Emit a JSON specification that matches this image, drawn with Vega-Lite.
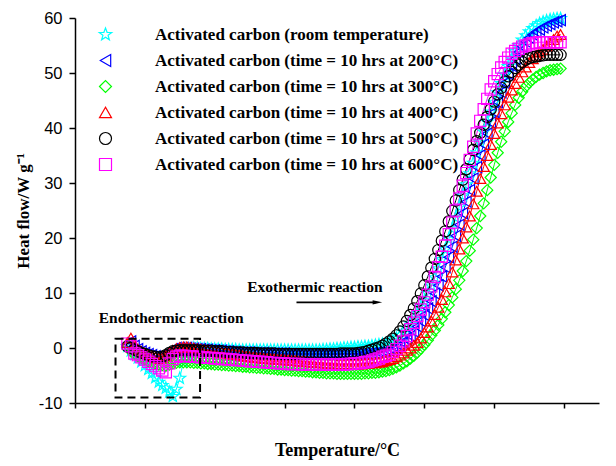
{
 "$schema": "https://vega.github.io/schema/vega-lite/v6.json",
 "width": 524,
 "height": 385,
 "autosize": {"type": "none"},
 "padding": {"left": 75, "top": 18, "right": 17, "bottom": 63},
 "background": "white",
 "config": {"view": {"stroke": null}},
 "datasets": {
  "d": [
{"s":"a","t":25,"h":0.3},{"s":"a","t":30,"h":-0.5},{"s":"a","t":35,"h":-1.2},{"s":"a","t":40,"h":-1.8},{"s":"a","t":45,"h":-2.5},{"s":"a","t":50,"h":-3.2},{"s":"a","t":55,"h":-3.9},{"s":"a","t":60,"h":-4.6},{"s":"a","t":65,"h":-5.4},{"s":"a","t":70,"h":-6.2},{"s":"a","t":75,"h":-6.8},{"s":"a","t":80,"h":-7.3},{"s":"a","t":85,"h":-8.0},{"s":"a","t":90,"h":-8.8},{"s":"a","t":95,"h":-7.5},{"s":"a","t":100,"h":-5.5},{"s":"a","t":105,"h":-2.5},{"s":"a","t":110,"h":-1.0},{"s":"a","t":115,"h":-0.2},{"s":"a","t":120,"h":0.0},
{"s":"a","t":125,"h":0.0},{"s":"a","t":130,"h":-0.1},{"s":"a","t":135,"h":-0.1},{"s":"a","t":140,"h":-0.1},{"s":"a","t":145,"h":-0.2},{"s":"a","t":150,"h":-0.2},{"s":"a","t":155,"h":-0.2},{"s":"a","t":160,"h":-0.2},{"s":"a","t":165,"h":-0.3},{"s":"a","t":170,"h":-0.3},{"s":"a","t":175,"h":-0.3},{"s":"a","t":180,"h":-0.3},{"s":"a","t":185,"h":-0.4},{"s":"a","t":190,"h":-0.4},{"s":"a","t":195,"h":-0.4},{"s":"a","t":200,"h":-0.4},{"s":"a","t":205,"h":-0.4},{"s":"a","t":210,"h":-0.4},{"s":"a","t":215,"h":-0.4},{"s":"a","t":220,"h":-0.4},{"s":"a","t":225,"h":-0.4},{"s":"a","t":230,"h":-0.4},{"s":"a","t":235,"h":-0.4},{"s":"a","t":240,"h":-0.4},{"s":"a","t":245,"h":-0.4},{"s":"a","t":250,"h":-0.4},{"s":"a","t":255,"h":-0.4},{"s":"a","t":260,"h":-0.4},{"s":"a","t":265,"h":-0.4},{"s":"a","t":270,"h":-0.4},{"s":"a","t":275,"h":-0.4},{"s":"a","t":280,"h":-0.4},{"s":"a","t":285,"h":-0.4},{"s":"a","t":290,"h":-0.4},{"s":"a","t":295,"h":-0.4},{"s":"a","t":300,"h":-0.4},
{"s":"a","t":305,"h":-0.3},{"s":"a","t":310,"h":-0.3},{"s":"a","t":315,"h":-0.2},{"s":"a","t":320,"h":-0.2},{"s":"a","t":325,"h":-0.1},{"s":"a","t":330,"h":-0.1},{"s":"a","t":335,"h":0.0},{"s":"a","t":340,"h":0.0},{"s":"a","t":345,"h":0.1},{"s":"a","t":350,"h":0.1},{"s":"a","t":355,"h":0.2},{"s":"a","t":360,"h":0.2},{"s":"a","t":365,"h":0.3},{"s":"a","t":370,"h":0.3},{"s":"a","t":375,"h":0.4},{"s":"a","t":380,"h":0.5},{"s":"a","t":385,"h":0.6},{"s":"a","t":390,"h":0.7},{"s":"a","t":395,"h":0.8},{"s":"a","t":400,"h":1.0},
{"s":"a","t":405,"h":1.4},{"s":"a","t":410,"h":1.8},{"s":"a","t":415,"h":2.3},{"s":"a","t":420,"h":2.9},{"s":"a","t":425,"h":3.6},{"s":"a","t":430,"h":4.4},{"s":"a","t":435,"h":5.3},{"s":"a","t":440,"h":6.3},{"s":"a","t":445,"h":7.4},{"s":"a","t":450,"h":8.6},{"s":"a","t":455,"h":9.9},{"s":"a","t":460,"h":11.3},{"s":"a","t":465,"h":12.8},{"s":"a","t":470,"h":14.4},{"s":"a","t":475,"h":16.1},{"s":"a","t":480,"h":17.9},{"s":"a","t":485,"h":19.8},{"s":"a","t":490,"h":21.7},{"s":"a","t":495,"h":23.7},{"s":"a","t":500,"h":25.7},{"s":"a","t":505,"h":27.7},{"s":"a","t":510,"h":29.7},{"s":"a","t":515,"h":31.7},{"s":"a","t":520,"h":33.6},{"s":"a","t":525,"h":35.5},{"s":"a","t":530,"h":37.4},{"s":"a","t":535,"h":39.3},{"s":"a","t":540,"h":41.1},{"s":"a","t":545,"h":42.9},{"s":"a","t":550,"h":44.7},{"s":"a","t":555,"h":46.4},{"s":"a","t":560,"h":48.1},{"s":"a","t":565,"h":49.7},{"s":"a","t":570,"h":51.2},{"s":"a","t":575,"h":52.6},{"s":"a","t":580,"h":53.9},{"s":"a","t":585,"h":55.0},{"s":"a","t":590,"h":56.0},{"s":"a","t":595,"h":56.8},{"s":"a","t":600,"h":57.5},{"s":"a","t":605,"h":58.1},{"s":"a","t":610,"h":58.6},{"s":"a","t":615,"h":59.0},{"s":"a","t":620,"h":59.3},{"s":"a","t":625,"h":59.5},{"s":"a","t":630,"h":59.7},{"s":"a","t":635,"h":59.8},{"s":"a","t":640,"h":59.9},{"s":"a","t":645,"h":59.9},

{"s":"b","t":25,"h":0.8},{"s":"b","t":30,"h":1.2},{"s":"b","t":35,"h":0.4},{"s":"b","t":40,"h":-0.2},{"s":"b","t":45,"h":-0.6},{"s":"b","t":50,"h":-0.9},{"s":"b","t":55,"h":-1.1},{"s":"b","t":60,"h":-1.3},{"s":"b","t":65,"h":-1.5},{"s":"b","t":70,"h":-1.6},{"s":"b","t":75,"h":-1.5},{"s":"b","t":80,"h":-1.1},{"s":"b","t":85,"h":-0.6},{"s":"b","t":90,"h":-0.2},{"s":"b","t":95,"h":0.0},{"s":"b","t":100,"h":0.0},{"s":"b","t":105,"h":0.0},{"s":"b","t":110,"h":0.0},{"s":"b","t":115,"h":-0.1},{"s":"b","t":120,"h":-0.1},
{"s":"b","t":125,"h":-0.2},{"s":"b","t":130,"h":-0.2},{"s":"b","t":135,"h":-0.3},{"s":"b","t":140,"h":-0.3},{"s":"b","t":145,"h":-0.4},{"s":"b","t":150,"h":-0.4},{"s":"b","t":155,"h":-0.5},{"s":"b","t":160,"h":-0.5},{"s":"b","t":165,"h":-0.6},{"s":"b","t":170,"h":-0.6},{"s":"b","t":175,"h":-0.7},{"s":"b","t":180,"h":-0.7},{"s":"b","t":185,"h":-0.8},{"s":"b","t":190,"h":-0.8},{"s":"b","t":195,"h":-0.8},{"s":"b","t":200,"h":-0.8},{"s":"b","t":205,"h":-0.9},{"s":"b","t":210,"h":-0.9},{"s":"b","t":215,"h":-0.9},{"s":"b","t":220,"h":-0.9},{"s":"b","t":225,"h":-1.0},{"s":"b","t":230,"h":-1.0},{"s":"b","t":235,"h":-1.0},{"s":"b","t":240,"h":-1.0},{"s":"b","t":245,"h":-1.0},{"s":"b","t":250,"h":-1.0},
{"s":"b","t":255,"h":-1.1},{"s":"b","t":260,"h":-1.1},{"s":"b","t":265,"h":-1.1},{"s":"b","t":270,"h":-1.1},{"s":"b","t":275,"h":-1.1},{"s":"b","t":280,"h":-1.1},{"s":"b","t":285,"h":-1.1},{"s":"b","t":290,"h":-1.1},{"s":"b","t":295,"h":-1.1},{"s":"b","t":300,"h":-1.1},{"s":"b","t":305,"h":-1.1},{"s":"b","t":310,"h":-1.1},{"s":"b","t":315,"h":-1.1},{"s":"b","t":320,"h":-1.1},{"s":"b","t":325,"h":-1.1},{"s":"b","t":330,"h":-1.1},{"s":"b","t":335,"h":-1.1},{"s":"b","t":340,"h":-1.1},{"s":"b","t":345,"h":-1.1},{"s":"b","t":350,"h":-1.1},{"s":"b","t":355,"h":-1.1},{"s":"b","t":360,"h":-1.1},
{"s":"b","t":365,"h":-1.0},{"s":"b","t":370,"h":-1.0},{"s":"b","t":375,"h":-0.9},{"s":"b","t":380,"h":-0.9},{"s":"b","t":385,"h":-0.8},{"s":"b","t":390,"h":-0.8},{"s":"b","t":395,"h":-0.7},{"s":"b","t":400,"h":-0.5},{"s":"b","t":405,"h":-0.3},{"s":"b","t":410,"h":0.0},{"s":"b","t":415,"h":0.4},{"s":"b","t":420,"h":0.9},{"s":"b","t":425,"h":1.5},{"s":"b","t":430,"h":2.2},{"s":"b","t":435,"h":3.0},{"s":"b","t":440,"h":3.9},{"s":"b","t":445,"h":4.9},{"s":"b","t":450,"h":6.0},{"s":"b","t":455,"h":7.2},{"s":"b","t":460,"h":8.5},{"s":"b","t":465,"h":9.9},{"s":"b","t":470,"h":11.4},{"s":"b","t":475,"h":13.0},{"s":"b","t":480,"h":14.7},{"s":"b","t":485,"h":16.5},{"s":"b","t":490,"h":18.4},{"s":"b","t":495,"h":20.4},{"s":"b","t":500,"h":22.4},{"s":"b","t":505,"h":24.5},{"s":"b","t":510,"h":26.6},{"s":"b","t":515,"h":28.7},{"s":"b","t":520,"h":30.8},{"s":"b","t":525,"h":32.9},{"s":"b","t":530,"h":35.0},{"s":"b","t":535,"h":37.0},{"s":"b","t":540,"h":39.0},{"s":"b","t":545,"h":41.0},{"s":"b","t":550,"h":42.9},{"s":"b","t":555,"h":44.7},{"s":"b","t":560,"h":46.5},{"s":"b","t":565,"h":48.2},{"s":"b","t":570,"h":49.8},{"s":"b","t":575,"h":51.3},{"s":"b","t":580,"h":52.6},{"s":"b","t":585,"h":53.8},{"s":"b","t":590,"h":54.8},{"s":"b","t":595,"h":55.7},{"s":"b","t":600,"h":56.4},{"s":"b","t":605,"h":57.0},{"s":"b","t":610,"h":57.5},{"s":"b","t":615,"h":57.9},{"s":"b","t":620,"h":58.3},{"s":"b","t":625,"h":58.6},{"s":"b","t":630,"h":58.9},{"s":"b","t":635,"h":59.2},{"s":"b","t":640,"h":59.4},{"s":"b","t":645,"h":59.6},

{"s":"c","t":25,"h":0.5},{"s":"c","t":30,"h":-0.6},{"s":"c","t":35,"h":-1.1},{"s":"c","t":40,"h":-1.5},{"s":"c","t":45,"h":-1.8},{"s":"c","t":50,"h":-2.1},{"s":"c","t":55,"h":-2.4},{"s":"c","t":60,"h":-2.6},{"s":"c","t":65,"h":-2.8},{"s":"c","t":70,"h":-3.0},{"s":"c","t":75,"h":-3.1},{"s":"c","t":80,"h":-3.2},{"s":"c","t":85,"h":-3.0},{"s":"c","t":90,"h":-2.8},{"s":"c","t":95,"h":-2.7},{"s":"c","t":100,"h":-2.6},{"s":"c","t":105,"h":-2.6},{"s":"c","t":110,"h":-2.6},{"s":"c","t":115,"h":-2.6},{"s":"c","t":120,"h":-2.7},
{"s":"c","t":125,"h":-2.7},{"s":"c","t":130,"h":-2.8},{"s":"c","t":135,"h":-2.8},{"s":"c","t":140,"h":-2.9},{"s":"c","t":145,"h":-2.9},{"s":"c","t":150,"h":-3.0},{"s":"c","t":155,"h":-3.0},{"s":"c","t":160,"h":-3.1},{"s":"c","t":165,"h":-3.1},{"s":"c","t":170,"h":-3.2},{"s":"c","t":175,"h":-3.2},{"s":"c","t":180,"h":-3.3},{"s":"c","t":185,"h":-3.3},{"s":"c","t":190,"h":-3.4},{"s":"c","t":195,"h":-3.4},{"s":"c","t":200,"h":-3.5},{"s":"c","t":205,"h":-3.5},{"s":"c","t":210,"h":-3.6},{"s":"c","t":215,"h":-3.6},{"s":"c","t":220,"h":-3.7},{"s":"c","t":225,"h":-3.7},{"s":"c","t":230,"h":-3.8},{"s":"c","t":235,"h":-3.8},{"s":"c","t":240,"h":-3.9},{"s":"c","t":245,"h":-3.9},{"s":"c","t":250,"h":-4.0},{"s":"c","t":255,"h":-4.0},{"s":"c","t":260,"h":-4.1},{"s":"c","t":265,"h":-4.1},{"s":"c","t":270,"h":-4.2},{"s":"c","t":275,"h":-4.2},{"s":"c","t":280,"h":-4.3},{"s":"c","t":285,"h":-4.3},{"s":"c","t":290,"h":-4.4},{"s":"c","t":295,"h":-4.4},{"s":"c","t":300,"h":-4.5},
{"s":"c","t":305,"h":-4.5},{"s":"c","t":310,"h":-4.6},{"s":"c","t":315,"h":-4.6},{"s":"c","t":320,"h":-4.6},{"s":"c","t":325,"h":-4.7},{"s":"c","t":330,"h":-4.7},{"s":"c","t":335,"h":-4.7},{"s":"c","t":340,"h":-4.7},{"s":"c","t":345,"h":-4.7},{"s":"c","t":350,"h":-4.7},{"s":"c","t":355,"h":-4.7},{"s":"c","t":360,"h":-4.7},{"s":"c","t":365,"h":-4.6},{"s":"c","t":370,"h":-4.6},{"s":"c","t":375,"h":-4.5},{"s":"c","t":380,"h":-4.5},{"s":"c","t":385,"h":-4.4},{"s":"c","t":390,"h":-4.3},{"s":"c","t":395,"h":-4.2},{"s":"c","t":400,"h":-4.0},
{"s":"c","t":405,"h":-3.8},{"s":"c","t":410,"h":-3.5},{"s":"c","t":415,"h":-3.2},{"s":"c","t":420,"h":-2.8},{"s":"c","t":425,"h":-2.4},{"s":"c","t":430,"h":-1.9},{"s":"c","t":435,"h":-1.4},{"s":"c","t":440,"h":-0.8},{"s":"c","t":445,"h":-0.1},{"s":"c","t":450,"h":0.6},{"s":"c","t":455,"h":1.4},{"s":"c","t":460,"h":2.3},{"s":"c","t":465,"h":3.2},{"s":"c","t":470,"h":4.2},{"s":"c","t":475,"h":5.3},{"s":"c","t":480,"h":6.5},{"s":"c","t":485,"h":7.8},{"s":"c","t":490,"h":9.2},{"s":"c","t":495,"h":10.7},{"s":"c","t":500,"h":12.3},{"s":"c","t":505,"h":14.0},{"s":"c","t":510,"h":15.8},{"s":"c","t":515,"h":17.7},{"s":"c","t":520,"h":19.7},{"s":"c","t":525,"h":21.8},{"s":"c","t":530,"h":24.0},{"s":"c","t":535,"h":26.3},{"s":"c","t":540,"h":28.7},{"s":"c","t":545,"h":31.0},{"s":"c","t":550,"h":33.3},{"s":"c","t":555,"h":35.5},{"s":"c","t":560,"h":37.5},{"s":"c","t":565,"h":39.4},{"s":"c","t":570,"h":41.1},{"s":"c","t":575,"h":42.7},{"s":"c","t":580,"h":44.2},{"s":"c","t":585,"h":45.5},{"s":"c","t":590,"h":46.6},{"s":"c","t":595,"h":47.5},{"s":"c","t":600,"h":48.2},{"s":"c","t":605,"h":48.8},{"s":"c","t":610,"h":49.3},{"s":"c","t":615,"h":49.7},{"s":"c","t":620,"h":50.0},{"s":"c","t":625,"h":50.3},{"s":"c","t":630,"h":50.5},{"s":"c","t":635,"h":50.6},{"s":"c","t":640,"h":50.7},{"s":"c","t":645,"h":50.8},

{"s":"d","t":25,"h":1.0},{"s":"d","t":30,"h":1.8},{"s":"d","t":35,"h":0.6},{"s":"d","t":40,"h":-0.2},{"s":"d","t":45,"h":-0.6},{"s":"d","t":50,"h":-0.9},{"s":"d","t":55,"h":-1.2},{"s":"d","t":60,"h":-1.5},{"s":"d","t":65,"h":-1.7},{"s":"d","t":70,"h":-1.9},{"s":"d","t":75,"h":-1.8},{"s":"d","t":80,"h":-1.4},{"s":"d","t":85,"h":-0.8},{"s":"d","t":90,"h":-0.4},{"s":"d","t":95,"h":-0.1},{"s":"d","t":100,"h":0.1},{"s":"d","t":105,"h":0.2},{"s":"d","t":110,"h":0.2},{"s":"d","t":115,"h":0.1},{"s":"d","t":120,"h":0.0},
{"s":"d","t":125,"h":-0.1},{"s":"d","t":130,"h":-0.2},{"s":"d","t":135,"h":-0.3},{"s":"d","t":140,"h":-0.4},{"s":"d","t":145,"h":-0.5},{"s":"d","t":150,"h":-0.6},{"s":"d","t":155,"h":-0.7},{"s":"d","t":160,"h":-0.8},{"s":"d","t":165,"h":-0.9},{"s":"d","t":170,"h":-1.0},{"s":"d","t":175,"h":-1.1},{"s":"d","t":180,"h":-1.2},{"s":"d","t":185,"h":-1.3},{"s":"d","t":190,"h":-1.4},{"s":"d","t":195,"h":-1.5},{"s":"d","t":200,"h":-1.6},{"s":"d","t":205,"h":-1.7},{"s":"d","t":210,"h":-1.8},{"s":"d","t":215,"h":-1.8},{"s":"d","t":220,"h":-1.9},{"s":"d","t":225,"h":-1.9},{"s":"d","t":230,"h":-2.0},{"s":"d","t":235,"h":-2.0},{"s":"d","t":240,"h":-2.1},{"s":"d","t":245,"h":-2.1},{"s":"d","t":250,"h":-2.2},{"s":"d","t":255,"h":-2.2},{"s":"d","t":260,"h":-2.3},{"s":"d","t":265,"h":-2.3},{"s":"d","t":270,"h":-2.4},{"s":"d","t":275,"h":-2.4},{"s":"d","t":280,"h":-2.5},{"s":"d","t":285,"h":-2.5},{"s":"d","t":290,"h":-2.6},{"s":"d","t":295,"h":-2.6},{"s":"d","t":300,"h":-2.7},
{"s":"d","t":305,"h":-2.7},{"s":"d","t":310,"h":-2.8},{"s":"d","t":315,"h":-2.8},{"s":"d","t":320,"h":-2.8},{"s":"d","t":325,"h":-2.9},{"s":"d","t":330,"h":-2.9},{"s":"d","t":335,"h":-2.9},{"s":"d","t":340,"h":-2.9},{"s":"d","t":345,"h":-2.9},{"s":"d","t":350,"h":-2.9},{"s":"d","t":355,"h":-2.9},{"s":"d","t":360,"h":-2.9},{"s":"d","t":365,"h":-2.8},{"s":"d","t":370,"h":-2.8},{"s":"d","t":375,"h":-2.7},{"s":"d","t":380,"h":-2.7},{"s":"d","t":385,"h":-2.6},{"s":"d","t":390,"h":-2.5},{"s":"d","t":395,"h":-2.3},{"s":"d","t":400,"h":-2.1},
{"s":"d","t":405,"h":-1.9},{"s":"d","t":410,"h":-1.6},{"s":"d","t":415,"h":-1.3},{"s":"d","t":420,"h":-0.9},{"s":"d","t":425,"h":-0.4},{"s":"d","t":430,"h":0.0},{"s":"d","t":435,"h":0.5},{"s":"d","t":440,"h":1.0},{"s":"d","t":445,"h":1.8},{"s":"d","t":450,"h":2.8},{"s":"d","t":455,"h":3.8},{"s":"d","t":460,"h":4.9},{"s":"d","t":465,"h":6.1},{"s":"d","t":470,"h":7.4},{"s":"d","t":475,"h":8.8},{"s":"d","t":480,"h":10.2},{"s":"d","t":485,"h":11.7},{"s":"d","t":490,"h":13.8},{"s":"d","t":495,"h":16.0},{"s":"d","t":500,"h":18.0},{"s":"d","t":505,"h":20.0},{"s":"d","t":510,"h":22.0},{"s":"d","t":515,"h":24.0},{"s":"d","t":520,"h":26.2},{"s":"d","t":525,"h":28.5},{"s":"d","t":530,"h":30.8},{"s":"d","t":535,"h":33.0},{"s":"d","t":540,"h":35.0},{"s":"d","t":545,"h":37.0},{"s":"d","t":550,"h":39.0},{"s":"d","t":555,"h":40.9},{"s":"d","t":560,"h":42.6},{"s":"d","t":565,"h":44.2},{"s":"d","t":570,"h":45.6},{"s":"d","t":575,"h":46.9},{"s":"d","t":580,"h":48.1},{"s":"d","t":585,"h":49.2},{"s":"d","t":590,"h":50.2},{"s":"d","t":595,"h":51.1},{"s":"d","t":600,"h":51.9},{"s":"d","t":605,"h":52.6},{"s":"d","t":610,"h":53.2},{"s":"d","t":615,"h":53.8},{"s":"d","t":620,"h":54.3},{"s":"d","t":625,"h":54.9},{"s":"d","t":630,"h":55.5},{"s":"d","t":635,"h":56.1},{"s":"d","t":640,"h":56.7},{"s":"d","t":645,"h":57.0},

{"s":"e","t":25,"h":0.3},{"s":"e","t":30,"h":0.0},{"s":"e","t":35,"h":-0.3},{"s":"e","t":40,"h":-0.6},{"s":"e","t":45,"h":-0.9},{"s":"e","t":50,"h":-1.1},{"s":"e","t":55,"h":-1.3},{"s":"e","t":60,"h":-1.5},{"s":"e","t":65,"h":-1.6},{"s":"e","t":70,"h":-1.7},{"s":"e","t":75,"h":-1.6},{"s":"e","t":80,"h":-1.3},{"s":"e","t":85,"h":-0.9},{"s":"e","t":90,"h":-0.6},{"s":"e","t":95,"h":-0.5},{"s":"e","t":100,"h":-0.4},{"s":"e","t":105,"h":-0.4},{"s":"e","t":110,"h":-0.4},{"s":"e","t":115,"h":-0.4},{"s":"e","t":120,"h":-0.4},
{"s":"e","t":125,"h":-0.4},{"s":"e","t":130,"h":-0.5},{"s":"e","t":135,"h":-0.5},{"s":"e","t":140,"h":-0.5},{"s":"e","t":145,"h":-0.5},{"s":"e","t":150,"h":-0.6},{"s":"e","t":155,"h":-0.6},{"s":"e","t":160,"h":-0.6},{"s":"e","t":165,"h":-0.7},{"s":"e","t":170,"h":-0.7},{"s":"e","t":175,"h":-0.7},{"s":"e","t":180,"h":-0.8},{"s":"e","t":185,"h":-0.8},{"s":"e","t":190,"h":-0.8},{"s":"e","t":195,"h":-0.9},{"s":"e","t":200,"h":-0.9},{"s":"e","t":205,"h":-0.9},{"s":"e","t":210,"h":-0.9},{"s":"e","t":215,"h":-1.0},{"s":"e","t":220,"h":-1.0},{"s":"e","t":225,"h":-1.0},{"s":"e","t":230,"h":-1.0},{"s":"e","t":235,"h":-1.0},{"s":"e","t":240,"h":-1.1},{"s":"e","t":245,"h":-1.1},{"s":"e","t":250,"h":-1.1},{"s":"e","t":255,"h":-1.1},{"s":"e","t":260,"h":-1.1},{"s":"e","t":265,"h":-1.1},{"s":"e","t":270,"h":-1.1},{"s":"e","t":275,"h":-1.1},{"s":"e","t":280,"h":-1.1},{"s":"e","t":285,"h":-1.1},{"s":"e","t":290,"h":-1.1},{"s":"e","t":295,"h":-1.1},{"s":"e","t":300,"h":-1.1},
{"s":"e","t":305,"h":-1.1},{"s":"e","t":310,"h":-1.1},{"s":"e","t":315,"h":-1.1},{"s":"e","t":320,"h":-1.1},{"s":"e","t":325,"h":-1.1},{"s":"e","t":330,"h":-1.0},{"s":"e","t":335,"h":-1.0},{"s":"e","t":340,"h":-1.0},{"s":"e","t":345,"h":-1.0},{"s":"e","t":350,"h":-1.0},{"s":"e","t":355,"h":-0.9},{"s":"e","t":360,"h":-0.8},{"s":"e","t":365,"h":-0.7},{"s":"e","t":370,"h":-0.5},{"s":"e","t":375,"h":-0.3},{"s":"e","t":380,"h":-0.1},{"s":"e","t":385,"h":0.1},{"s":"e","t":390,"h":0.4},{"s":"e","t":395,"h":0.8},{"s":"e","t":400,"h":1.2},
{"s":"e","t":405,"h":1.7},{"s":"e","t":410,"h":2.3},{"s":"e","t":415,"h":3.0},{"s":"e","t":420,"h":3.9},{"s":"e","t":425,"h":4.9},{"s":"e","t":430,"h":6.0},{"s":"e","t":435,"h":7.2},{"s":"e","t":440,"h":8.5},{"s":"e","t":445,"h":9.9},{"s":"e","t":450,"h":11.4},{"s":"e","t":455,"h":13.0},{"s":"e","t":460,"h":14.6},{"s":"e","t":465,"h":16.2},{"s":"e","t":470,"h":17.8},{"s":"e","t":475,"h":19.5},{"s":"e","t":480,"h":21.2},{"s":"e","t":485,"h":23.0},{"s":"e","t":490,"h":24.9},{"s":"e","t":495,"h":26.8},{"s":"e","t":500,"h":28.7},{"s":"e","t":505,"h":30.6},{"s":"e","t":510,"h":32.5},{"s":"e","t":515,"h":34.3},{"s":"e","t":520,"h":36.0},{"s":"e","t":525,"h":37.6},{"s":"e","t":530,"h":39.1},{"s":"e","t":535,"h":40.6},{"s":"e","t":540,"h":42.0},{"s":"e","t":545,"h":43.4},{"s":"e","t":550,"h":44.8},{"s":"e","t":555,"h":46.1},{"s":"e","t":560,"h":47.3},{"s":"e","t":565,"h":48.4},{"s":"e","t":570,"h":49.4},{"s":"e","t":575,"h":50.2},{"s":"e","t":580,"h":50.9},{"s":"e","t":585,"h":51.5},{"s":"e","t":590,"h":52.0},{"s":"e","t":595,"h":52.4},{"s":"e","t":600,"h":52.7},{"s":"e","t":605,"h":52.9},{"s":"e","t":610,"h":53.0},{"s":"e","t":615,"h":53.1},{"s":"e","t":620,"h":53.2},{"s":"e","t":625,"h":53.3},{"s":"e","t":630,"h":53.3},{"s":"e","t":635,"h":53.3},{"s":"e","t":640,"h":53.3},{"s":"e","t":645,"h":53.3},

{"s":"f","t":25,"h":0.8},{"s":"f","t":30,"h":0.3},{"s":"f","t":35,"h":-1.0},{"s":"f","t":40,"h":-1.3},{"s":"f","t":45,"h":-1.7},{"s":"f","t":50,"h":-2.1},{"s":"f","t":55,"h":-2.5},{"s":"f","t":60,"h":-2.9},{"s":"f","t":65,"h":-3.3},{"s":"f","t":70,"h":-3.7},{"s":"f","t":75,"h":-4.1},{"s":"f","t":80,"h":-4.4},{"s":"f","t":85,"h":-2.8},{"s":"f","t":90,"h":-2.0},{"s":"f","t":95,"h":-1.6},{"s":"f","t":100,"h":-1.4},{"s":"f","t":105,"h":-1.4},{"s":"f","t":110,"h":-1.5},{"s":"f","t":115,"h":-1.5},{"s":"f","t":120,"h":-1.6},
{"s":"f","t":125,"h":-1.6},{"s":"f","t":130,"h":-1.7},{"s":"f","t":135,"h":-1.7},{"s":"f","t":140,"h":-1.8},{"s":"f","t":145,"h":-1.8},{"s":"f","t":150,"h":-1.9},{"s":"f","t":155,"h":-1.9},{"s":"f","t":160,"h":-2.0},{"s":"f","t":165,"h":-2.0},{"s":"f","t":170,"h":-2.1},{"s":"f","t":175,"h":-2.1},{"s":"f","t":180,"h":-2.2},{"s":"f","t":185,"h":-2.2},{"s":"f","t":190,"h":-2.3},{"s":"f","t":195,"h":-2.3},{"s":"f","t":200,"h":-2.4},{"s":"f","t":205,"h":-2.4},{"s":"f","t":210,"h":-2.5},{"s":"f","t":215,"h":-2.5},{"s":"f","t":220,"h":-2.6},{"s":"f","t":225,"h":-2.6},{"s":"f","t":230,"h":-2.7},{"s":"f","t":235,"h":-2.7},{"s":"f","t":240,"h":-2.8},{"s":"f","t":245,"h":-2.8},{"s":"f","t":250,"h":-2.8},{"s":"f","t":255,"h":-2.9},{"s":"f","t":260,"h":-2.9},{"s":"f","t":265,"h":-2.9},{"s":"f","t":270,"h":-2.9},{"s":"f","t":275,"h":-3.0},{"s":"f","t":280,"h":-3.0},{"s":"f","t":285,"h":-3.0},{"s":"f","t":290,"h":-3.0},{"s":"f","t":295,"h":-3.0},{"s":"f","t":300,"h":-3.0},
{"s":"f","t":305,"h":-3.0},{"s":"f","t":310,"h":-3.0},{"s":"f","t":315,"h":-3.0},{"s":"f","t":320,"h":-3.0},{"s":"f","t":325,"h":-3.0},{"s":"f","t":330,"h":-3.0},{"s":"f","t":335,"h":-3.0},{"s":"f","t":340,"h":-2.9},{"s":"f","t":345,"h":-2.9},{"s":"f","t":350,"h":-2.8},{"s":"f","t":355,"h":-2.8},{"s":"f","t":360,"h":-2.7},{"s":"f","t":365,"h":-2.6},{"s":"f","t":370,"h":-2.5},{"s":"f","t":375,"h":-2.3},{"s":"f","t":380,"h":-2.1},{"s":"f","t":385,"h":-1.9},{"s":"f","t":390,"h":-1.6},{"s":"f","t":395,"h":-1.4},{"s":"f","t":400,"h":-1.2},
{"s":"f","t":405,"h":-0.7},{"s":"f","t":410,"h":-0.2},{"s":"f","t":415,"h":0.4},{"s":"f","t":420,"h":1.2},{"s":"f","t":425,"h":2.2},{"s":"f","t":430,"h":3.4},{"s":"f","t":435,"h":4.6},{"s":"f","t":440,"h":5.8},{"s":"f","t":445,"h":7.0},{"s":"f","t":450,"h":8.3},{"s":"f","t":455,"h":9.7},{"s":"f","t":460,"h":11.2},{"s":"f","t":465,"h":12.9},{"s":"f","t":470,"h":14.7},{"s":"f","t":475,"h":16.6},{"s":"f","t":480,"h":18.6},{"s":"f","t":485,"h":20.7},{"s":"f","t":490,"h":22.8},{"s":"f","t":495,"h":25.0},{"s":"f","t":500,"h":27.2},{"s":"f","t":505,"h":29.5},{"s":"f","t":510,"h":31.8},{"s":"f","t":515,"h":34.2},{"s":"f","t":520,"h":36.6},{"s":"f","t":525,"h":39.0},{"s":"f","t":530,"h":41.3},{"s":"f","t":535,"h":43.4},{"s":"f","t":540,"h":45.3},{"s":"f","t":545,"h":47.0},{"s":"f","t":550,"h":48.5},{"s":"f","t":555,"h":49.8},{"s":"f","t":560,"h":51.0},{"s":"f","t":565,"h":52.0},{"s":"f","t":570,"h":52.8},{"s":"f","t":575,"h":53.5},{"s":"f","t":580,"h":54.0},{"s":"f","t":585,"h":54.4},{"s":"f","t":590,"h":54.8},{"s":"f","t":595,"h":55.0},{"s":"f","t":600,"h":55.2},{"s":"f","t":605,"h":55.4},{"s":"f","t":610,"h":55.5},{"s":"f","t":615,"h":55.6},{"s":"f","t":620,"h":55.6},{"s":"f","t":625,"h":55.6},{"s":"f","t":630,"h":55.6},{"s":"f","t":635,"h":55.6},{"s":"f","t":640,"h":55.6},{"s":"f","t":645,"h":55.6}
  ],
  "box": [{"t": 8, "t2": 129, "h": 1.7, "h2": -9.0}],
  "notes": [{"t": -16, "h": 4.5, "label": "Endothermic reaction"}, {"t": 196.5, "h": 10.1, "label": "Exothermic reaction"}],
  "arrow": [{"t": 267, "t2": 381, "h": 8.3}],
  "head": [{"t": 384, "h": 8.3}]
 },
 "layer": [
  {
   "data": {"name": "d"},
   "mark": {"type": "line", "strokeWidth": 1},
   "encoding": {
    "x": {"field": "t", "type": "quantitative", "scale": {"domain": [-50, 700], "nice": false, "zero": false},
     "axis": {"values": [-50, 0, 50, 100, 150, 200, 250, 300, 350, 400, 450, 500, 550, 600, 650, 700],
      "labelExpr": "datum.value % 100 === 0 ? '' + datum.value : ''",
      "tickSize": 5, "labelPadding": 9, "grid": false,
      "domainColor": "black", "domainWidth": 1.5, "tickColor": "black", "tickWidth": 1.5,
      "labelFont": "Liberation Sans", "labelFontSize": 16.5, "labelColor": "black",
      "title": "Temperature/°C", "titleFont": "Liberation Serif", "titleFontWeight": "bold", "titleFontSize": 18, "titleColor": "black", "titlePadding": 8}},
    "y": {"field": "h", "type": "quantitative", "scale": {"domain": [-10, 60], "nice": false, "zero": false},
     "axis": {"values": [-10, -5, 0, 5, 10, 15, 20, 25, 30, 35, 40, 45, 50, 55, 60],
      "labelExpr": "datum.value % 10 === 0 ? '' + datum.value : ''",
      "tickSize": 6, "labelPadding": 7, "grid": false,
      "domainColor": "black", "domainWidth": 1.5, "tickColor": "black", "tickWidth": 1.5,
      "labelFont": "Liberation Sans", "labelFontSize": 16.5, "labelColor": "black",
      "title": "Heat flow/W g⁻¹", "titleFont": "Liberation Serif", "titleFontWeight": "bold", "titleFontSize": 17, "titleColor": "black", "titlePadding": 6}},
    "color": {"field": "s", "type": "nominal", "scale": {"domain": ["a", "b", "c", "d", "e", "f"], "range": ["#00FFFF", "#0000FF", "#00FF00", "#FF0000", "#000000", "#FF00FF"]}}
   }
  },
  {
   "data": {"name": "d"},
   "mark": {"type": "point", "filled": false, "strokeWidth": 1.2, "opacity": 1, "size": 125},
   "encoding": {
    "x": {"field": "t", "type": "quantitative"},
    "y": {"field": "h", "type": "quantitative"},
    "color": {"field": "s", "type": "nominal",
     "legend": {"orient": "none", "legendX": 7, "legendY": 8, "title": null, "padding": 0,
      "labelExpr": "datum.value === 'a' ? 'Activated carbon (room temperature)' : 'Activated carbon (time = 10 hrs at ' + (datum.value === 'b' ? '200' : datum.value === 'c' ? '300' : datum.value === 'd' ? '400' : datum.value === 'e' ? '500' : '600') + '°C)'",
      "labelFont": "Liberation Serif", "labelFontWeight": "bold", "labelFontSize": 17, "labelColor": "black", "labelLimit": 400,
      "symbolSize": 144, "symbolStrokeWidth": 1.2, "symbolOffset": 15, "labelOffset": 41, "rowPadding": 8}},
    "shape": {"field": "s", "type": "nominal", "scale": {"domain": ["a", "b", "c", "d", "e", "f"], "range": ["M0,-1.1L0.265,-0.364L1.046,-0.34L0.428,0.139L0.647,0.89L0,0.45L-0.647,0.89L-0.428,0.139L-1.046,-0.34L-0.265,-0.364Z", "triangle-left", "diamond", "triangle-up", "circle", "square"]}}
   }
  },
  {
   "data": {"name": "box"},
   "mark": {"type": "rect", "fill": "transparent", "stroke": "black", "strokeWidth": 2, "strokeDash": [8, 5]},
   "encoding": {
    "x": {"field": "t", "type": "quantitative"}, "x2": {"field": "t2"},
    "y": {"field": "h", "type": "quantitative"}, "y2": {"field": "h2"}
   }
  },
  {
   "data": {"name": "notes"},
   "mark": {"type": "text", "align": "left", "baseline": "alphabetic", "font": "Liberation Serif", "fontWeight": "bold", "fontSize": 15.5, "color": "black"},
   "encoding": {
    "x": {"field": "t", "type": "quantitative"},
    "y": {"field": "h", "type": "quantitative"},
    "text": {"field": "label"}
   }
  },
  {
   "data": {"name": "arrow"},
   "mark": {"type": "rule", "stroke": "black", "strokeWidth": 1.8},
   "encoding": {
    "x": {"field": "t", "type": "quantitative"}, "x2": {"field": "t2"},
    "y": {"field": "h", "type": "quantitative"}
   }
  },
  {
   "data": {"name": "head"},
   "mark": {"type": "point", "shape": "M1,0L-1.4,-0.55L-1.4,0.55Z", "filled": true, "color": "black", "size": 64, "opacity": 1},
   "encoding": {
    "x": {"field": "t", "type": "quantitative"},
    "y": {"field": "h", "type": "quantitative"}
   }
  }
 ]
}
